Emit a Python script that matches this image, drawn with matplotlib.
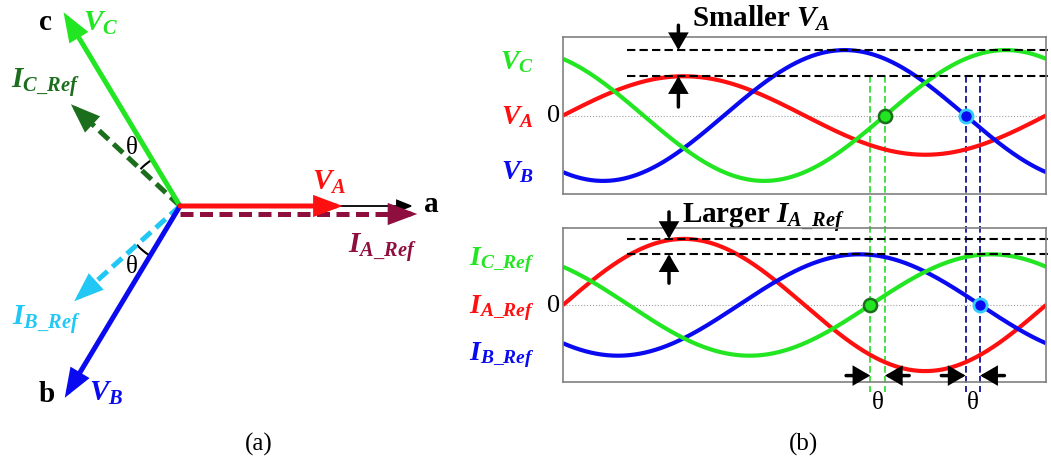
import numpy as np
import matplotlib.pyplot as plt
from matplotlib.patches import Arc

plt.rcParams['font.family'] = ['Liberation Serif', 'DejaVu Serif']
plt.rcParams['mathtext.fontset'] = 'custom'
plt.rcParams['mathtext.it'] = 'Liberation Serif:italic:bold'
plt.rcParams['mathtext.rm'] = 'Liberation Serif:bold'
plt.rcParams['mathtext.bf'] = 'Liberation Serif:bold'

# ---- phasor diagram (a): angle in degrees, relative magnitude ----
volt_phasor_angle = [0, 239, 121]          # V_A, V_B, V_C
volt_phasor_mag = [0.72, 0.99, 1.0]
curr_phasor_angle = [0, 222, 137]          # I_A_Ref, I_B_Ref, I_C_Ref
curr_phasor_mag = [1.05, 0.63, 0.66]

# ---- waveforms (b): amplitude and phase of each phase ----
volt_amp = [0.6, 1.0, 1.0]                 # A, B, C
volt_phase = [0, -120, 120]
curr_amp = [1.03, 0.79, 0.79]
curr_phase = [0, -131, 131]

RED = '#ff1010'
GREEN = '#22e622'
BLUE = '#0a0af0'
DKGREEN = '#1b6e1b'
CYAN = '#22c8f5'
MAROON = '#8e0e3e'
NAVY = '#00008b'

W, H = 1051, 464
fig = plt.figure(figsize=(W / 100, H / 100), dpi=100)

# overlay in pixel units (y up) for the phasor plot and free text
ax0 = fig.add_axes([0, 0, 1, 1])
ax0.set_xlim(0, W)
ax0.set_ylim(0, H)
ax0.axis('off')

ORIGIN = np.array([180.0, 257.0])
SCALE = 226.0


def arrow(ax, xy_from, xy_to, color, lw, hl=0.8, hw=0.3, ms=18, **kw):
    ax.annotate('', xy=xy_to, xytext=xy_from,
                arrowprops=dict(arrowstyle=f'-|>,head_length={hl},head_width={hw}',
                                color=color, lw=lw, mutation_scale=ms,
                                shrinkA=0, shrinkB=0, joinstyle='miter'),
                annotation_clip=False, **kw)


def phasor(angle, mag, color, dashed=False, offset=(0, 0), lw=3.6):
    a = np.deg2rad(angle)
    u = np.array([np.cos(a), np.sin(a)])
    p0 = ORIGIN + np.array(offset)
    p1 = p0 + mag * SCALE * u
    if dashed:
        base = p1 - 16 * u
        ax0.plot([p0[0], base[0]], [p0[1], base[1]], color=color, lw=lw,
                 ls=(0, (2.6, 1.3)), solid_capstyle='butt', dash_capstyle='butt')
        arrow(ax0, p1 - 20 * u, p1, color, lw)
    else:
        arrow(ax0, p0, p1, color, lw)


# thin reference axis towards "a"
arrow(ax0, ORIGIN, ORIGIN + [233, 0], 'black', 1.3, hl=0.7, hw=0.28, ms=14)
phasor(curr_phasor_angle[0], curr_phasor_mag[0], MAROON, dashed=True, offset=(0, -8))
phasor(curr_phasor_angle[2], curr_phasor_mag[2], DKGREEN, dashed=True)
phasor(curr_phasor_angle[1], curr_phasor_mag[1], CYAN, dashed=True)
phasor(volt_phasor_angle[2], volt_phasor_mag[2], GREEN)
phasor(volt_phasor_angle[1], volt_phasor_mag[1], BLUE)
phasor(volt_phasor_angle[0], volt_phasor_mag[0], RED)

# angle marks between each voltage and its reference current
ax0.add_patch(Arc(ORIGIN, 108, 108, theta1=volt_phasor_angle[2],
                  theta2=curr_phasor_angle[2], color='black', lw=1.5))
ax0.add_patch(Arc(ORIGIN, 116, 116, theta1=curr_phasor_angle[1],
                  theta2=volt_phasor_angle[1], color='black', lw=1.5))
ax0.text(132, 316, 'θ', fontsize=18, ha='center', va='center')
ax0.text(132, 197, 'θ', fontsize=18, ha='center', va='center')

lab = dict(fontsize=21, ha='center', va='center')
ax0.text(45, 442, 'c', fontweight='bold', **lab)
ax0.text(431, 259, 'a', fontweight='bold', **lab)
ax0.text(47, 69, 'b', fontweight='bold', **lab)
ax0.text(101, 441, '$V_C$', color=GREEN, **lab)
ax0.text(329, 282, '$V_A$', color=RED, **lab)
ax0.text(106, 71, '$V_B$', color=BLUE, **lab)
ax0.text(45, 382, r'$I_{C\_Ref}$', color=DKGREEN, **lab)
ax0.text(382, 216, r'$I_{A\_Ref}$', color=MAROON, **lab)
ax0.text(46, 144, r'$I_{B\_Ref}$', color=CYAN, **lab)
ax0.text(259, 20, '(a)', fontsize=18, ha='center', va='center')
ax0.text(803, 20, '(b)', fontsize=18, ha='center', va='center')

# ---- waveform panels ----
ax_top = fig.add_axes([563 / W, (H - 195) / H, 483 / W, 157 / H], facecolor='none')
ax_bot = fig.add_axes([563 / W, (H - 383) / H, 483 / W, 154 / H], facecolor='none')
theta = np.linspace(0, 360, 721)

for ax in (ax_top, ax_bot):
    ax.set_xlim(0, 360)
    ax.set_ylim(-1.2, 1.2)
    ax.set_xticks([])
    ax.set_yticks([])
    for s in ax.spines.values():
        s.set_color('#808080')
        s.set_linewidth(1.2)
    ax.axhline(0, color='#a0a0a0', lw=0.8, ls=':')
    ax.text(-2, 0, '0', fontsize=19, fontweight='normal', ha='right', va='center',
            transform=ax.transData, clip_on=False,
            fontdict={'family': 'Liberation Serif'})

colors = [RED, BLUE, GREEN]
for amp, ph, c in zip(volt_amp, volt_phase, colors):
    ax_top.plot(theta, amp * np.sin(np.deg2rad(theta + ph)), color=c, lw=3, solid_capstyle='butt')
for amp, ph, c in zip(curr_amp, curr_phase, colors):
    ax_bot.plot(theta, amp * np.sin(np.deg2rad(theta + ph)), color=c, lw=3, solid_capstyle='butt')

dash = dict(color='black', lw=1.5, ls=(0, (4, 2)), clip_on=False)
ax_top.plot([48, 363], [volt_amp[1]] * 2, **dash)
ax_top.plot([48, 363], [volt_amp[0]] * 2, **dash)
ax_bot.plot([48, 363], [curr_amp[0]] * 2, **dash)
ax_bot.plot([48, 363], [curr_amp[1]] * 2, **dash)

# zero crossings: rising edge of phase C, falling edge of phase B
vc_zero = 360 - volt_phase[2]
ic_zero = 360 - curr_phase[2]
vb_zero = 180 - volt_phase[1]
ib_zero = 180 - curr_phase[1]

# vertical guides from the V_A peak line down below the lower panel
y_low = ax_top.transData.inverted().transform(fig.transFigure.transform((0, (H - 393) / H)))[1]
for x, c in ((ic_zero, '#22dd22'), (vc_zero, '#22dd22'), (vb_zero, NAVY), (ib_zero, NAVY)):
    ax_top.plot([x, x], [volt_amp[0], y_low], color=c, lw=1.2, ls=(0, (4, 2)), clip_on=False, zorder=1)

ax_top.plot(vc_zero, 0, 'o', ms=9.5, mfc=GREEN, mec=DKGREEN, mew=1.8, zorder=5)
ax_top.plot(vb_zero, 0, 'o', ms=9.5, mfc=BLUE, mec='#33ccff', mew=2, zorder=5)
ax_bot.plot(ic_zero, 0, 'o', ms=9.5, mfc=GREEN, mec=DKGREEN, mew=1.8, zorder=5)
ax_bot.plot(ib_zero, 0, 'o', ms=9.5, mfc=BLUE, mec='#33ccff', mew=2, zorder=5)

# amplitude markers
ak = dict(hl=0.6, hw=0.35, ms=15)
arrow(ax_top, (86, volt_amp[1] + 0.38), (86, volt_amp[1]), 'black', 2.5, **ak)
arrow(ax_top, (86, volt_amp[0] - 0.47), (86, volt_amp[0]), 'black', 2.5, **ak)
arrow(ax_bot, (79, curr_amp[0] + 0.42), (79, curr_amp[0]), 'black', 2.5, **ak)
arrow(ax_bot, (79, curr_amp[1] - 0.45), (79, curr_amp[1]), 'black', 2.5, **ak)

# phase shift markers under the lower panel
yb = -1.10
arrow(ax_bot, (ic_zero - 18, yb), (ic_zero, yb), 'black', 2.5, **ak)
arrow(ax_bot, (vc_zero + 18, yb), (vc_zero, yb), 'black', 2.5, **ak)
arrow(ax_bot, (vb_zero - 18, yb), (vb_zero, yb), 'black', 2.5, **ak)
arrow(ax_bot, (ib_zero + 18, yb), (ib_zero, yb), 'black', 2.5, **ak)
ax0.text(878, 61, 'θ', fontsize=18, ha='center', va='center')
ax0.text(973, 61, 'θ', fontsize=18, ha='center', va='center')

ax0.text(692, 437, 'Smaller $V_A$', fontsize=21, fontweight='bold', ha='left', va='baseline')
ax0.text(682, 241, r'Larger $I_{A\_Ref}$', fontsize=21, fontweight='bold', ha='left', va='baseline')

ax0.text(517, 402, '$V_C$', color=GREEN, fontsize=20, ha='center', va='center')
ax0.text(517, 347, '$V_A$', color=RED, fontsize=20, ha='center', va='center')
ax0.text(517, 292, '$V_B$', color=BLUE, fontsize=20, ha='center', va='center')
ax0.text(502, 204, r'$I_{C\_Ref}$', color=GREEN, fontsize=20, ha='center', va='center')
ax0.text(502, 156, r'$I_{A\_Ref}$', color=RED, fontsize=20, ha='center', va='center')
ax0.text(502, 109, r'$I_{B\_Ref}$', color=BLUE, fontsize=20, ha='center', va='center')

fig.savefig('out.png', dpi=100)
